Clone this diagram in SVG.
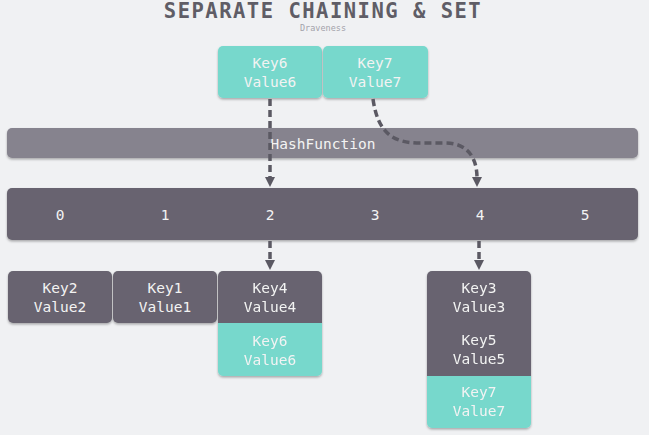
<svg xmlns="http://www.w3.org/2000/svg" width="649" height="435" viewBox="0 0 649 435">
<style>
.t{font-family:"DejaVu Sans Mono","Liberation Mono",monospace;font-size:14.5px;fill:#f3f3f3;text-anchor:middle}
.teal{fill:#77d8cc}
.dark{fill:#67646f}
.conn{fill:none;stroke:#5b5963;stroke-width:3.5;stroke-dasharray:7 4}
</style>
<defs>
<filter id="sh" x="-10%" y="-10%" width="120%" height="130%">
<feDropShadow dx="0" dy="1.5" stdDeviation="1.2" flood-color="#000" flood-opacity="0.3"/>
</filter>
</defs>
<rect width="649" height="435" fill="#f0f1f3"/>
<g id="title">
<text x="323" y="18" style="font-family:'DejaVu Sans Mono','Liberation Mono',monospace;font-size:20.5px;letter-spacing:1.5px;fill:#5f5d66;text-anchor:middle;font-weight:bold">SEPARATE CHAINING &amp; SET</text>
<text x="323" y="31" style="font-family:'DejaVu Sans Mono','Liberation Mono',monospace;font-size:8.5px;fill:#a3a2aa;text-anchor:middle">Draveness</text>
</g>
<g id="key6">
<rect x="218" y="46" width="104" height="52" rx="5" class="teal" filter="url(#sh)"/>
<text x="270" y="68" class="t">Key6</text><text x="270" y="87" class="t">Value6</text>
</g>
<g id="key7">
<rect x="323" y="46" width="105" height="52" rx="5" class="teal" filter="url(#sh)"/>
<text x="375" y="68" class="t">Key7</text><text x="375" y="87" class="t">Value7</text>
</g>
<g id="hashfunction">
<rect x="7" y="128" width="631" height="30" rx="5" fill="#86838e" filter="url(#sh)"/>
<text x="323" y="149" class="t">HashFunction</text>
</g>
<g id="array">
<rect x="7" y="188" width="631" height="52" rx="5" class="dark" filter="url(#sh)"/>
<text x="60" y="220" class="t">0</text>
<text x="165" y="220" class="t">1</text>
<text x="270" y="220" class="t">2</text>
<text x="375" y="220" class="t">3</text>
<text x="480" y="220" class="t">4</text>
<text x="585" y="220" class="t">5</text>
</g>
<g id="key2">
<rect x="8" y="271" width="104" height="52" rx="5" class="dark" filter="url(#sh)"/>
<text x="60" y="293" class="t">Key2</text><text x="60" y="312" class="t">Value2</text>
</g>
<g id="key1">
<rect x="113" y="271" width="104" height="52" rx="5" class="dark" filter="url(#sh)"/>
<text x="165" y="293" class="t">Key1</text><text x="165" y="312" class="t">Value1</text>
</g>
<g id="bucket2" filter="url(#sh)">
<path d="M218,276 a5,5 0 0 1 5,-5 h94 a5,5 0 0 1 5,5 v47 h-104 z" class="dark"/>
<path d="M218,323 h104 v48 a5,5 0 0 1 -5,5 h-94 a5,5 0 0 1 -5,-5 z" class="teal"/>
<text x="270" y="293" class="t">Key4</text><text x="270" y="312" class="t">Value4</text>
<text x="270" y="346" class="t">Key6</text><text x="270" y="365" class="t">Value6</text>
</g>
<g id="bucket4" filter="url(#sh)">
<path d="M427,276 a5,5 0 0 1 5,-5 h94 a5,5 0 0 1 5,5 v100 h-104 z" class="dark"/>
<path d="M427,376 h104 v47 a5,5 0 0 1 -5,5 h-94 a5,5 0 0 1 -5,-5 z" class="teal"/>
<text x="479" y="293" class="t">Key3</text><text x="479" y="312" class="t">Value3</text>
<text x="479" y="345" class="t">Key5</text><text x="479" y="364" class="t">Value5</text>
<text x="479" y="397" class="t">Key7</text><text x="479" y="416" class="t">Value7</text>
</g>
<g id="connectors">
<path d="M270,99 V179" class="conn"/>
<path d="M265,177 L275,177 L270,187 z" fill="#5b5963"/>
<path d="M373,99 C378,135 395,143 420,143 L445,143 C468,143 477,158 477,178" class="conn"/>
<path d="M472,177 L482,177 L477,187 z" fill="#5b5963"/>
<path d="M270,241 V262" class="conn"/>
<path d="M265,260 L275,260 L270,270 z" fill="#5b5963"/>
<path d="M479,241 V262" class="conn"/>
<path d="M474,260 L484,260 L479,270 z" fill="#5b5963"/>
</g>
</svg>
